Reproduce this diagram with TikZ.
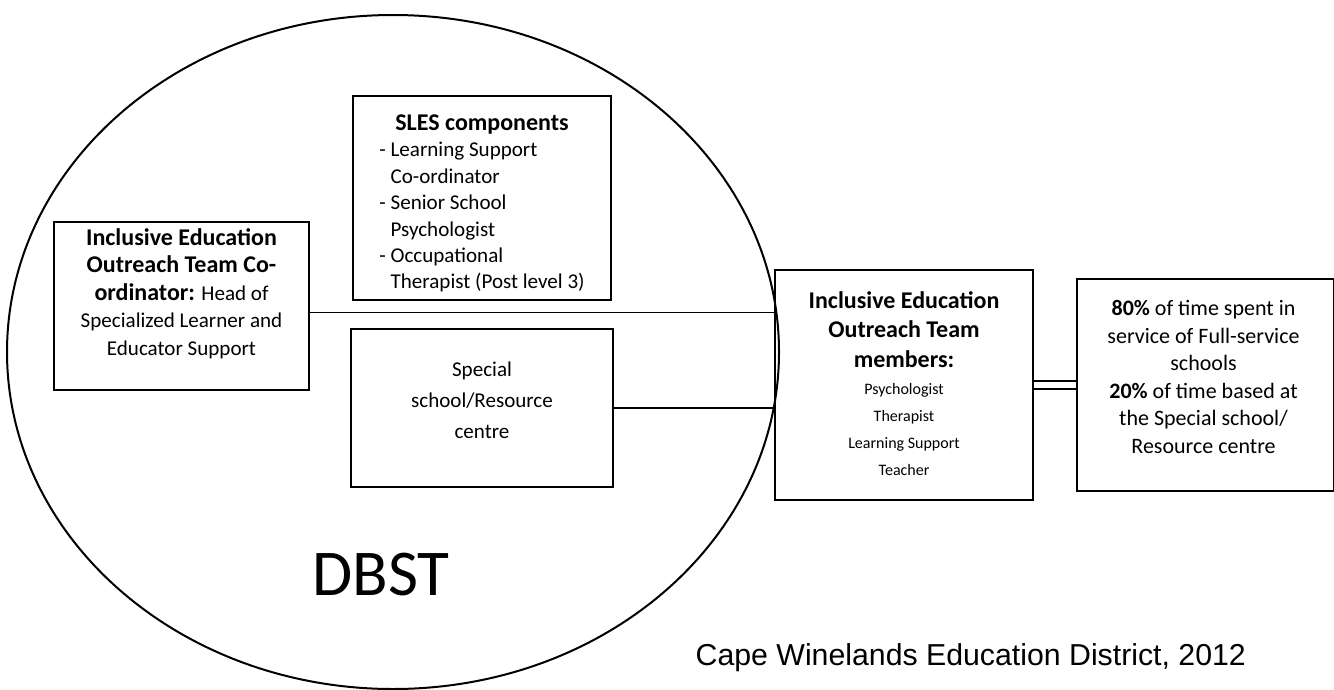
\documentclass[tikz,border=0pt]{standalone}
\usepackage{fontspec}
\setmainfont{Carlito}
\newfontfamily\arialfont{Liberation Sans}
\usetikzlibrary{positioning}

\newcommand{\headtxt}[1]{{\fontsize{18}{22}\selectfont\bfseries #1}}

\begin{document}
\begin{tikzpicture}[
    x=0.75pt, y=-0.75pt,
    box/.style={rectangle, draw, line width=1.5pt, inner sep=0pt},
    txt/.style={align=center, inner sep=0pt, anchor=north, font=\fontsize{15.8}{20.6}\selectfont},
    link/.style={line width=1pt},
    twin/.style={double, double distance=4.5pt, line width=1.2pt}
]
\useasboundingbox (0,0) rectangle (1334,689);

% DBST circle
\draw[line width=1.5pt] (393,352) ellipse [x radius=386, y radius=337];
\node[font=\fontsize{49}{58}\selectfont] (dbst) at (381,575) {DBST};

% Boxes inside the circle
\node[box, minimum width=191.25pt, minimum height=126pt] (coord) at (181.5,306) {};
\node[txt] (coordtxt) at (181.5,228)
    {\headtxt{Inclusive Education}\\ \headtxt{Outreach Team Co-}\\ \headtxt{ordinator:} Head of\\ Specialized Learner and\\ Educator Support};

\node[box, minimum width=193.5pt, minimum height=153pt] (sles) at (482,198) {};
\node[txt, font=\fontsize{15.8}{19.8}\selectfont] (slestxt) at (482,114.5)
    {\headtxt{SLES components}\\
     \begin{tabular}[t]{@{}l@{}}
     - Learning Support\\ \phantom{- }Co-ordinator\\
     - Senior School\\ \phantom{- }Psychologist\\
     - Occupational\\ \phantom{- }Therapist (Post level 3)
     \end{tabular}};

\node[box, minimum width=196.5pt, minimum height=118.5pt, below=20.25pt of sles] (special) {};
\node[txt, anchor=center, font=\fontsize{15.8}{23.3}\selectfont] (specialtxt) at (482,400)
    {Special\\ school/Resource\\ centre};

% Outreach team
\node[box, minimum width=193.5pt, minimum height=172.5pt] (members) at (904,385) {};
\node[txt, font=\fontsize{12}{20.25}\selectfont] (memberstxt) at (904,291)
    {\headtxt{Inclusive Education}\\[1.9pt] \headtxt{Outreach Team}\\[1.9pt] \headtxt{members:}\\[0.5pt]
     Psychologist\\ Therapist\\ Learning Support\\ Teacher};

\node[box, minimum width=192.75pt, minimum height=159pt, right=31.5pt of members] (share) {};
\node[txt, font=\fontsize{16.5}{20.7}\selectfont] (sharetxt) at (1203.5,300)
    {\textbf{80\%} of time spent in\\ service of Full-service\\ schools\\ \textbf{20\%} of time based at\\ the Special school/\\ Resource centre};

% Connectors
\coordinate (c1) at ([yshift=-4.9pt]coord.east);
\draw[link] (c1) -- (c1 -| members.west);
\draw[link] (special.east) -- (special.east -| members.west);
\draw[twin] (members.east) -- (share.west);

% Source
\node[font=\arialfont\fontsize{22.7}{27}\selectfont, anchor=base west] (source) at (691,665) {Cape Winelands Education District, 2012};

\end{tikzpicture}
\end{document}
